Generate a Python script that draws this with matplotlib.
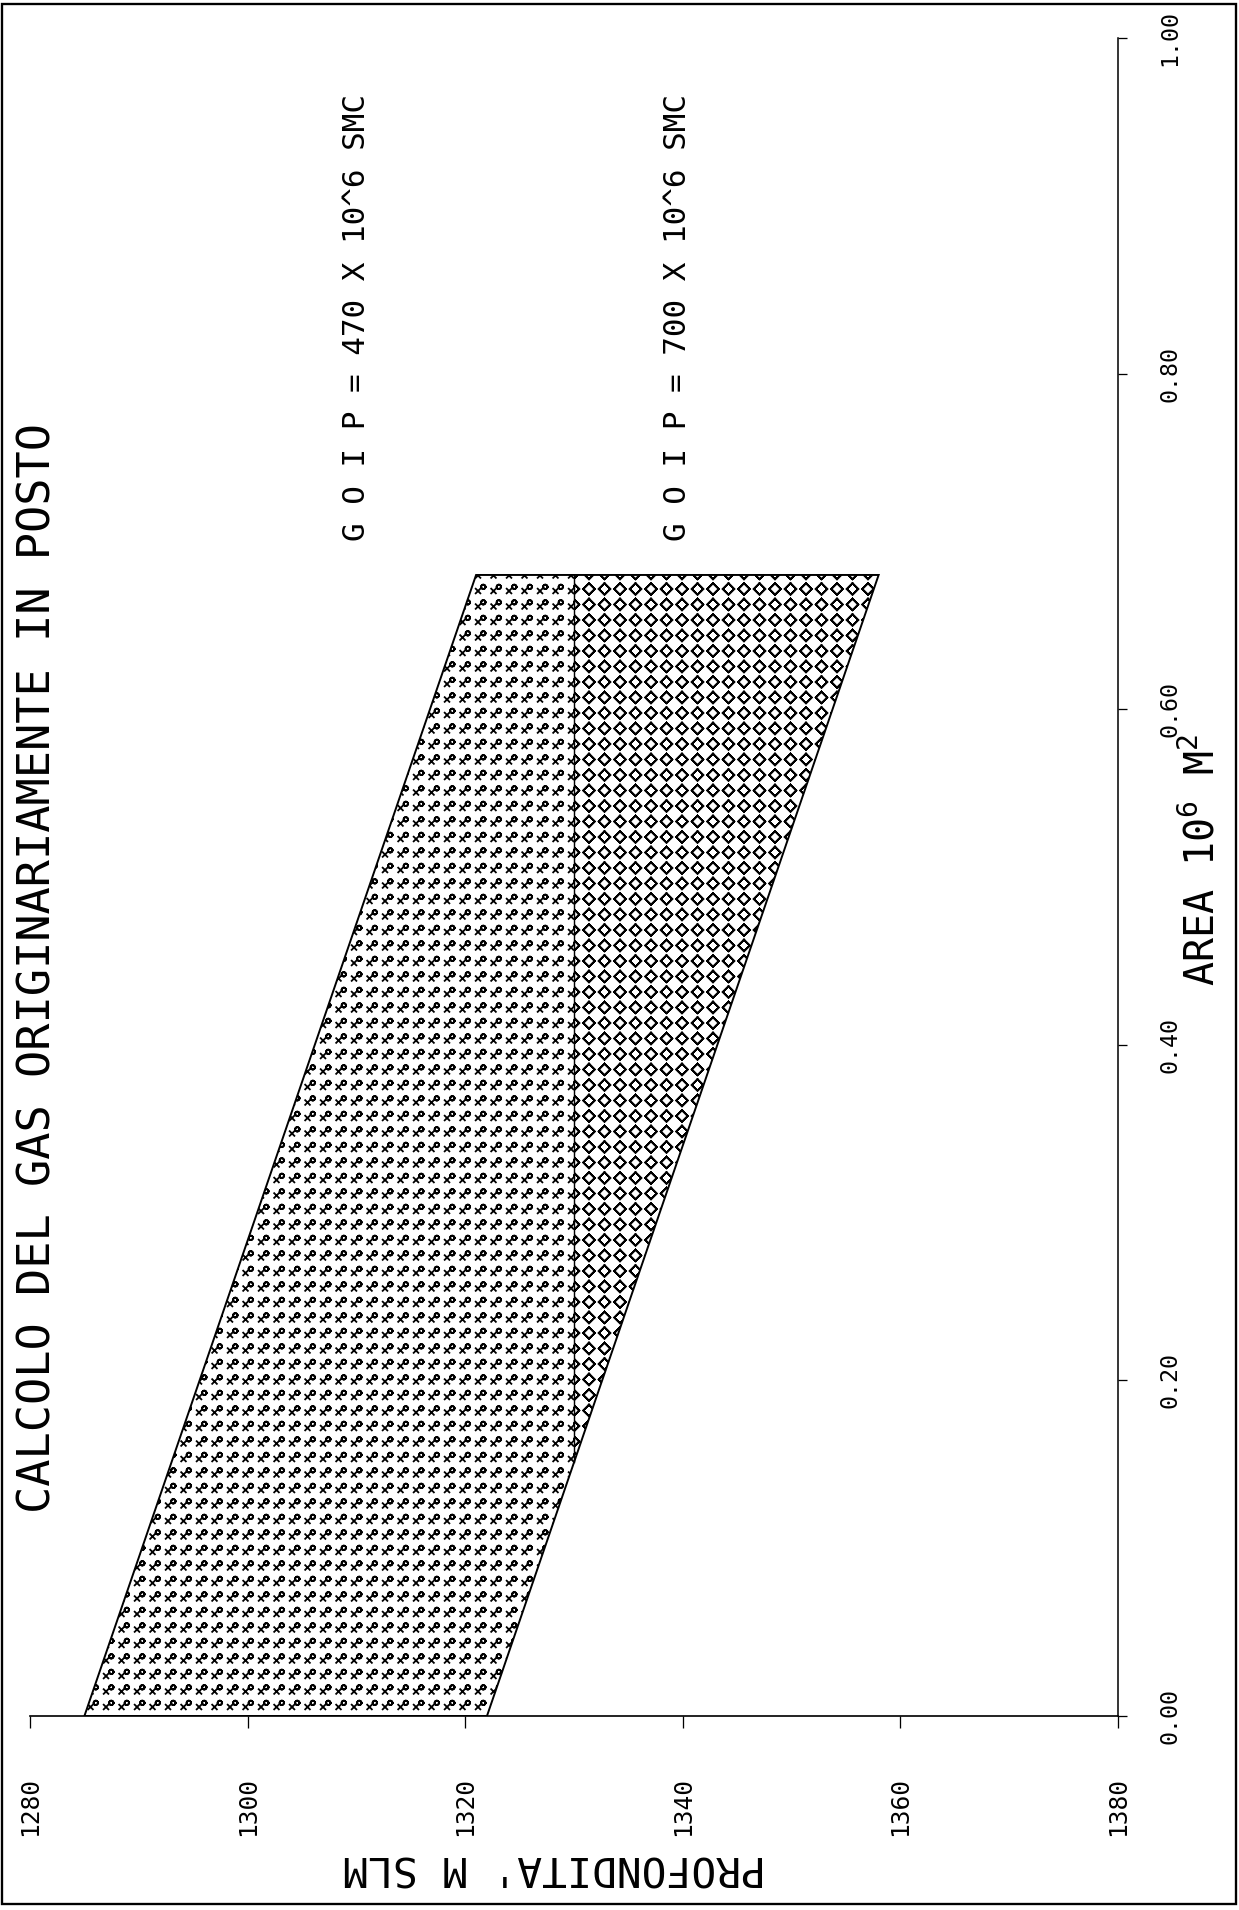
import numpy as np
import matplotlib
matplotlib.use("Agg")
import matplotlib.pyplot as plt
import matplotlib.hatch as mhatch
from matplotlib.path import Path
from matplotlib.patches import Rectangle

# ---------------- data ----------------
area = [0.0, 0.68]                 # 10^6 m^2
depth_top = [1285.0, 1321.0]       # top of reservoir (m slm)
depth_base = [1322.0, 1358.0]      # base of reservoir (m slm)
gwc = 1330.0                       # gas-water contact
depth_ticks = [1280, 1300, 1320, 1340, 1360, 1380]
area_ticks = [0.0, 0.2, 0.4, 0.6, 0.8, 1.0]
area_tick_labels = ["0.00", "0.20", "0.40", "0.60", "0.80", "1.00"]
title = "CALCOLO DEL GAS ORIGINARIAMENTE IN POSTO"
goip_labels = ["G O I P = 470 X 10^6 SMC", "G O I P = 700 X 10^6 SMC"]
goip_depth = [1310.0, 1339.5]
goip_area = [0.70, 0.70]
xlabel = "PROFONDITA' M SLM"
ylabel = "AREA 10$^6$ M$^2$"

# ---------------- plotter-like hatch marks ----------------
class _GridMarks(mhatch.HatchPatternBase):
    char = ""

    def __init__(self, hatch, density):
        self.n = hatch.count(self.char) if hatch else 0
        if self.n:
            v, c = self.shape()
            # outline forward then backward: zero-area fill, only strokes show
            self._v = np.concatenate([v, v[::-1]])
            self._c = np.concatenate([c, c])
            self.num_vertices = (self.n + 1) ** 2 * len(self._v)
        else:
            self.num_vertices = 0

    def set_vertices_and_codes(self, vertices, codes):
        step = 1.0 / self.n
        vs, cs = [], []
        for i in range(self.n + 1):
            for j in range(self.n + 1):
                vs.append(self._v * step + [j * step, i * step])
                cs.append(self._c)
        vertices[:] = np.concatenate(vs)
        codes[:] = np.concatenate(cs)


def _ring(cx, cy, r, k=14):
    t = np.linspace(0, 2 * np.pi, k + 1)
    v = np.column_stack([cx + r * np.cos(t), cy + r * np.sin(t)])
    c = np.full(k + 1, Path.LINETO, dtype=Path.code_type)
    c[0] = Path.MOVETO
    return v, c


class XOMarks(_GridMarks):
    char = "x"

    def shape(self):
        cx, cy, a = -0.16, -0.13, 0.15
        xv = np.array([[cx - a, cy - a], [cx + a, cy + a]])
        xc = np.array([Path.MOVETO, Path.LINETO], dtype=Path.code_type)
        xv2 = np.array([[cx - a, cy + a], [cx + a, cy - a]])
        ov, oc = _ring(0.18, 0.14, 0.14)
        return (np.concatenate([xv, xv2, ov]),
                np.concatenate([xc, xc, oc]))

    def __init__(self, hatch, density):
        self.n = hatch.count(self.char) if hatch else 0
        if self.n:
            v, c = self.shape()
            # segments stay open; ring traced forward and back
            ov, oc = v[4:], c[4:]
            self._v = np.concatenate([v[:4], ov, ov[::-1]])
            self._c = np.concatenate([c[:4], oc, oc])
            self.num_vertices = (self.n + 1) ** 2 * len(self._v)
        else:
            self.num_vertices = 0


class DiamondMarks(_GridMarks):
    char = "O"

    def shape(self):
        r = 0.37
        v = np.array([[0, r], [r, 0], [0, -r], [-r, 0], [0, r]])
        c = np.array([Path.MOVETO] + [Path.LINETO] * 4, dtype=Path.code_type)
        return v, c


mhatch._hatch_types = [XOMarks, DiamondMarks]

# ---------------- figure ----------------
plt.rcParams["font.family"] = ["DejaVu Sans Mono", "DejaVu Sans"]
plt.rcParams["mathtext.fontset"] = "custom"
plt.rcParams["mathtext.rm"] = "DejaVu Sans Mono"
plt.rcParams["mathtext.it"] = "DejaVu Sans Mono"
plt.rcParams["hatch.linewidth"] = 1.4

DPI = 93
W, H = 1239, 1910
fig = plt.figure(figsize=(W / DPI, H / DPI), dpi=DPI)
ax = fig.add_axes([30 / W, 1 - 1716 / H, (1118 - 30) / W, (1716 - 38) / H])

a_gwc = float(np.interp(gwc, depth_base, area))

# gas zone
yg = np.array([area[0], a_gwc, area[1]])
xg1 = np.interp(yg, area, depth_top)
xg2 = np.minimum(np.interp(yg, area, depth_base), gwc)
ax.fill_betweenx(yg, xg1, xg2, facecolor="white", edgecolor="black",
                 linewidth=0, hatch="xxxxxx")
# water zone
yw = np.array([a_gwc, area[1]])
xw1 = np.full_like(yw, gwc)
xw2 = np.interp(yw, area, depth_base)
ax.fill_betweenx(yw, xw1, xw2, facecolor="white", edgecolor="black",
                 linewidth=0, hatch="OOOOOO")

# outline
ax.fill(np.r_[depth_top, depth_base[::-1]], np.r_[area, area[::-1]],
        fill=False, edgecolor="black", linewidth=1.5)
ax.plot([gwc, gwc], [a_gwc, area[1]], color="black", linewidth=1.1)

for lab, d, a in zip(goip_labels, goip_depth, goip_area):
    ax.text(d, a, lab, rotation=90, ha="center", va="bottom",
            fontsize=24, color="black")

ax.set_xlim(1280, 1380)
ax.set_ylim(0, 1)
ax.spines["top"].set_visible(False)
ax.spines["left"].set_visible(False)
ax.spines["bottom"].set_linewidth(1.3)
ax.spines["right"].set_linewidth(1.2)
ax.yaxis.tick_right()
ax.set_xticks(depth_ticks)
ax.set_xticklabels([str(t) for t in depth_ticks], rotation=90, fontsize=19)
ax.set_yticks(area_ticks)
ax.set_yticklabels(area_tick_labels, rotation=90, fontsize=18, va="center")
ax.tick_params(axis="x", direction="out", length=9, width=1.0, pad=38)
ax.tick_params(axis="y", direction="out", length=7, width=1.0, pad=24)
ax.patch.set_visible(False)

# titles and axis labels
fig.text(38 / W, 1 - 968 / H, title, rotation=90, ha="center", va="center",
         fontsize=35, color="black")
fig.text(1203 / W, 1 - 860 / H, ylabel, rotation=90, ha="center",
         va="center", fontsize=31, color="black")
fig.text(555 / W, 1 - 1866 / H, xlabel, rotation=180, ha="center",
         va="center", fontsize=32, color="black")

# page frame
fig.add_artist(Rectangle((2 / W, 1 - 1904 / H), (1236 - 2) / W, (1904 - 4) / H,
                         transform=fig.transFigure, fill=False,
                         edgecolor="black", linewidth=1.8))

fig.savefig("out.png", dpi=DPI, facecolor="white")
